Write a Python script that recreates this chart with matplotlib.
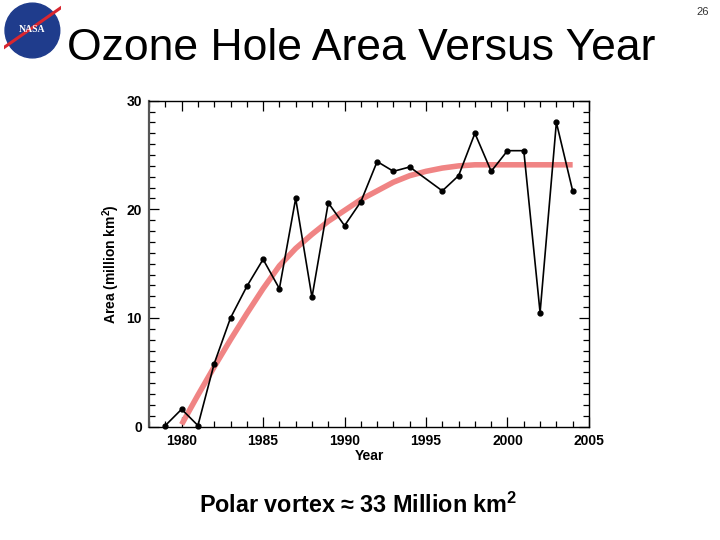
import matplotlib.pyplot as plt
from matplotlib.patches import Circle
from matplotlib.ticker import MultipleLocator

plt.rcParams['font.family'] = ['Liberation Sans', 'DejaVu Sans']
plt.rcParams['mathtext.fontset'] = 'custom'
plt.rcParams['mathtext.rm'] = 'Liberation Sans'
plt.rcParams['mathtext.bf'] = 'Liberation Sans:bold'

# measured ozone hole area (million km^2), no value for 1995
years = [1979, 1980, 1981, 1982, 1983, 1984, 1985, 1986, 1987, 1988, 1989,
         1990, 1991, 1992, 1993, 1994, 1996, 1997, 1998, 1999, 2000, 2001,
         2002, 2003, 2004]
area = [0.1, 1.6, 0.1, 5.8, 10.0, 12.9, 15.4, 12.7, 21.0, 11.9, 20.6,
        18.5, 20.7, 24.4, 23.5, 23.9, 21.7, 23.1, 27.0, 23.5, 25.4, 25.4,
        10.5, 28.0, 21.7]

# smooth fit curve (red)
fit_years = list(range(1980, 2005))
fit_area = [0.2, 2.9, 5.5, 8.0, 10.4, 12.7, 14.8, 16.4, 17.7, 18.9, 19.9,
            20.9, 21.7, 22.5, 23.1, 23.5, 23.8, 24.0, 24.1, 24.1, 24.1,
            24.1, 24.1, 24.1, 24.1]

fig = plt.figure(figsize=(7.2, 5.4), dpi=100)
ax = fig.add_axes([0.207, 0.21, 0.611, 0.6035])

ax.plot(fit_years, fit_area, color='#f08484', lw=4.0, solid_capstyle='butt', zorder=2)
ax.plot(years, area, color='black', lw=1.2, marker='o', ms=3.5, zorder=3, clip_on=False)

ax.set_xlim(1978, 2005)
ax.set_ylim(0, 30)
ax.xaxis.set_major_locator(MultipleLocator(5))
ax.xaxis.set_minor_locator(MultipleLocator(1))
ax.yaxis.set_major_locator(MultipleLocator(10))
ax.yaxis.set_minor_locator(MultipleLocator(1))
ax.tick_params(which='both', direction='in', top=True, right=True, width=0.9)
ax.tick_params(which='major', length=7, labelsize=10, pad=5)
ax.tick_params(which='minor', length=4)
for lab in ax.get_xticklabels() + ax.get_yticklabels():
    lab.set_fontweight('bold')
for s in ax.spines.values():
    s.set_linewidth(1.0)
ax.spines['left'].set_color('#555555')
ax.spines['left'].set_linewidth(1.6)

ax.set_xlabel('Year', fontsize=10, fontweight='bold', labelpad=1)
ax.set_ylabel(r'Area (million km$^{\mathbf{2}}$)', fontsize=10, fontweight='bold', labelpad=3)

fig.text(0.502, 0.91, 'Ozone Hole Area Versus Year', fontsize=32,
         ha='center', va='center')
fig.text(0.985, 0.978, '26', fontsize=8, ha='right', va='center', color='#333333')
fig.text(0.497, 0.064, r'Polar vortex ≈ 33 Million km$^{\mathbf{2}}$', fontsize=16.8,
         fontweight='bold', ha='center', va='center')

# NASA logo approximation
logo = fig.add_axes([0.005, 0.89, 0.08, 0.107])
logo.set_xlim(-1, 1)
logo.set_ylim(-1, 1)
logo.set_aspect('equal')
logo.axis('off')
logo.add_patch(Circle((0, 0), 0.95, color='#1f3c8c'))
logo.plot([-1.0, 1.0], [-0.6, 0.8], color='#d8262f', lw=2.2)
logo.text(0, 0.02, 'NASA', color='white', fontsize=7, fontweight='bold',
          ha='center', va='center', family='Liberation Serif')

fig.savefig('out.png', dpi=100)
